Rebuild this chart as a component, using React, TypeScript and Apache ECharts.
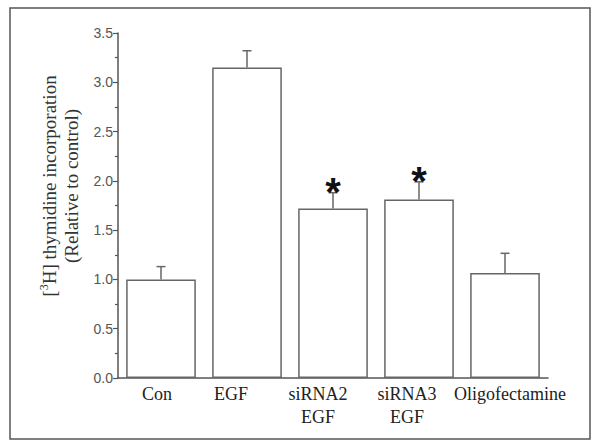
import React, { useEffect, useRef } from "react";
import * as echarts from "echarts";

const categories = ["Con", "EGF", "siRNA2\nEGF", "siRNA3\nEGF", "Oligofectamine"];
const means = [1.0, 3.15, 1.72, 1.81, 1.065];
const errors = [0.13, 0.17, 0.16, 0.18, 0.2];
const significant = [false, false, true, true, false];
const yTicks = { min: 0, max: 3.5, interval: 0.5 };

// horizontal nudges of the category labels as drawn in the original figure
const labelShift = [-4, -16, -15, -12, 5];

const SERIF = "'Liberation Serif', 'Times New Roman', serif";

export default function App() {
  const ref = useRef<HTMLDivElement>(null);
  useEffect(() => {
    if (!ref.current) return;
    const chart = echarts.init(ref.current, undefined, { renderer: "svg" });
    const errData = means.map((m, i) => [i, m, m + errors[i], significant[i] ? 1 : 0]);
    const rich: Record<string, any> = {};
    labelShift.forEach((s, i) => {
      rich["c" + i] = {
        fontFamily: SERIF,
        fontSize: 18,
        color: "#222",
        lineHeight: 23,
        padding: s < 0 ? [0, -2 * s, 0, 0] : [0, 0, 0, 2 * s],
      };
    });
    chart.setOption({
      animation: false,
      backgroundColor: "#fff",
      grid: { left: 118, right: 53, top: 33, bottom: 70 },
      xAxis: {
        type: "category",
        data: categories,
        axisLine: { lineStyle: { color: "#555", width: 1.5 } },
        axisTick: { show: false },
        axisLabel: {
          interval: 0,
          fontFamily: SERIF,
          fontSize: 18,
          color: "#222",
          lineHeight: 23,
          margin: 4,
          formatter: (v: string, i: number) =>
            v
              .split("\n")
              .map((l) => `{c${i}|${l}}`)
              .join("\n"),
          rich,
        },
      },
      yAxis: {
        type: "value",
        min: yTicks.min,
        max: yTicks.max,
        interval: yTicks.interval,
        axisLine: { show: true, lineStyle: { color: "#555", width: 1.5 } },
        axisTick: { show: true, length: 5, lineStyle: { color: "#555", width: 1.2 } },
        minorTick: { show: true, splitNumber: 2, length: 3, lineStyle: { color: "#555", width: 1.2 } },
        splitLine: { show: false },
        axisLabel: {
          fontFamily: "'Liberation Sans', Arial, sans-serif",
          fontSize: 14,
          color: "#555",
          margin: 5,
          formatter: (v: number) => v.toFixed(1),
        },
      },
      graphic: [
        {
          type: "rect",
          shape: { x: 10, y: 8, width: 580, height: 431 },
          style: { fill: "none", stroke: "#555", lineWidth: 1.5 },
          silent: true,
        },
        {
          type: "text",
          x: 60,
          y: 186,
          rotation: Math.PI / 2,
          style: {
            text: "[{sup|3}H] thymidine incorporation\n(Relative to control)",
            font: "19px 'Liberation Serif', 'Times New Roman', serif",
            lineHeight: 22,
            fill: "#333",
            align: "center",
            verticalAlign: "middle",
            rich: {
              sup: {
                font: "12px 'Liberation Serif', 'Times New Roman', serif",
                fill: "#333",
                verticalAlign: "top",
                lineHeight: 22,
                padding: [0, 0, 8, 0],
              },
            },
          },
        },
      ],
      series: [
        {
          type: "bar",
          data: means,
          barWidth: "81%",
          itemStyle: { color: "#fff", borderColor: "#666", borderWidth: 1.5 },
        },
        {
          type: "custom",
          data: errData,
          z: 5,
          renderItem: (params: any, api: any) => {
            const base = api.coord([api.value(0), api.value(1)]);
            const top = api.coord([api.value(0), api.value(2)]);
            const style = { stroke: "#666", lineWidth: 1.5 };
            const children: any[] = [
              { type: "line", shape: { x1: base[0], y1: base[1], x2: top[0], y2: top[1] }, style },
              { type: "line", shape: { x1: top[0] - 4.5, y1: top[1], x2: top[0] + 4.5, y2: top[1] }, style },
            ];
            if (api.value(3) === 1) {
              children.push({
                type: "text",
                x: top[0],
                y: top[1] - 1,
                style: {
                  text: "*",
                  font: "bold 40px 'Liberation Sans', Arial, sans-serif",
                  fill: "#111",
                  align: "center",
                  verticalAlign: "middle",
                },
              });
            }
            return { type: "group", children };
          },
        },
      ],
    });
    return () => chart.dispose();
  }, []);
  return (
    <div
      ref={ref}
      style={{ position: "fixed", left: 0, top: 0, width: 601, height: 448 }}
    />
  );
}
